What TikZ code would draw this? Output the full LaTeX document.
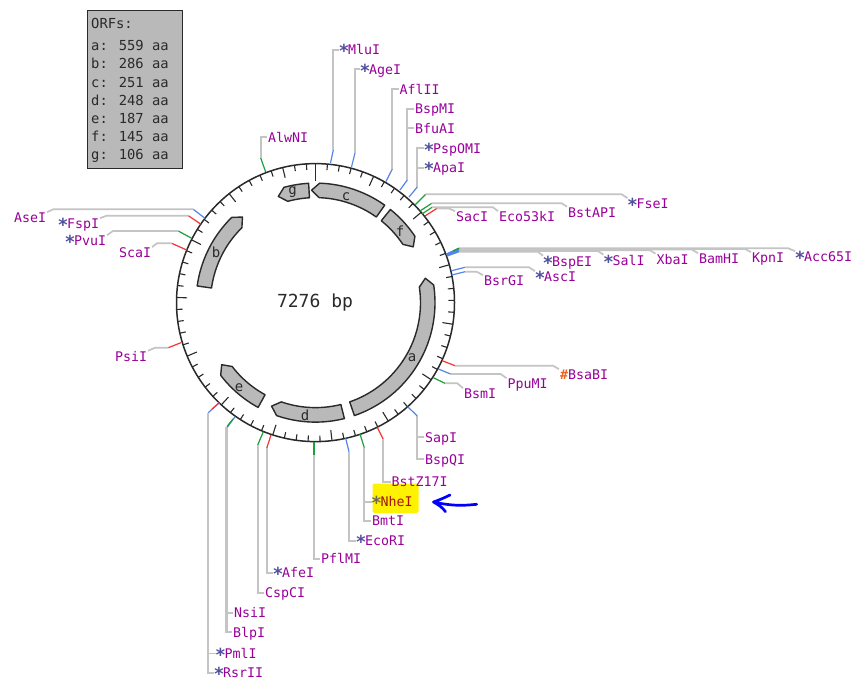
\documentclass[tikz,border=0pt]{standalone}
\usepackage{fontspec}
\setmainfont{DejaVu Sans Mono}
\definecolor{leadgrey}{HTML}{C4C4C4}
\definecolor{cutblue}{HTML}{5585E8}
\definecolor{cutgreen}{HTML}{1E9E3C}
\definecolor{cutred}{HTML}{F53535}
\definecolor{labpurple}{HTML}{990099}
\definecolor{starblue}{HTML}{50509E}
\definecolor{hashor}{HTML}{F5601E}
\definecolor{genegrey}{HTML}{B9B9B9}
\definecolor{ink}{HTML}{2A2A2A}
\newcommand\st{\makebox[8pt]{\color{starblue}\bfseries\raisebox{-3pt}{\scalebox{1.35}{*}}}}
\newcommand\hs{{\color{hashor}\bfseries\#}}
% name, x, y, text
\newcommand\lab[4]{\node[enzlabel] (#1) at ({#2-1},#3) {#4};}
% id, outer end x,y ; ring end x,y ; colour
\newcommand\site[4]{\coordinate (#1-a) at (#2); \coordinate (#1-b) at (#3); \draw[cut,#4] (#1-a) -- (#1-b);}
\newcommand\orf[4]{% name, flat angle, tip angle, letter position
  \pgfmathsetmacro\sh{#3-4*sign(#3-#2)}
  \draw[orfshape] plot[domain=#2:\sh,samples=40] ({315.5+119.5*sin(\x)},{302.6-119.5*cos(\x)})
    -- ({315.5+112.5*sin(#3)},{302.6-112.5*cos(#3)})
    -- plot[domain=\sh:#2,samples=40] ({315.5+105*sin(\x)},{302.6-105*cos(\x)}) -- cycle;
  \node[orfletter] (orf#1) at (#4) {#1};}
\tikzset{
  enzlabel/.style={anchor=west,inner sep=0pt,outer sep=1pt,text height=9.7pt,text depth=0pt,text=labpurple,font=\fontsize{13.3}{13.3}\selectfont},
  boxline/.style={anchor=west,inner sep=0pt,text height=9.7pt,text depth=0pt,text=ink,font=\fontsize{13.8}{13.8}\selectfont},
  cut/.style={line width=1.2pt},
  lead/.style={draw=leadgrey,line width=1.7pt},
  orfshape/.style={draw=ink,fill=genegrey,line width=1.4pt,line join=round},
  orfletter/.style={inner sep=0pt,text=ink,font=\fontsize{14}{14}\selectfont},
  mapring/.style={draw=ink,line width=1.5pt},
  maptick/.style={draw=ink,line width=1.1pt},
}
\begin{document}
\begin{tikzpicture}[x=1pt,y=-1pt]
\fill[white] (0,0) rectangle (854,681);
\useasboundingbox (0,0) rectangle (854,681);

% ORF legend
\node[draw=ink,fill=genegrey,line width=1.4pt,inner sep=0pt,minimum width=95pt,minimum height=158pt,anchor=north west] (orfbox) at (87,9.5) {};
\node[boxline] (h0) at (91,24) {ORFs:};
\node[boxline] (h1) at (91,46) {a: 559 aa};
\node[boxline] (h2) at (91,64) {b: 286 aa};
\node[boxline] (h3) at (91,82.5) {c: 251 aa};
\node[boxline] (h4) at (91,100.5) {d: 248 aa};
\node[boxline] (h5) at (91,119) {e: 187 aa};
\node[boxline] (h6) at (91,137) {f: 145 aa};
\node[boxline] (h7) at (91,155) {g: 106 aa};

% ring
\coordinate (ctr) at (315.5,302.6);
\draw[mapring] (ctr) circle[radius=139pt];
\foreach \i in {0,...,72}{
  \pgfmathsetmacro\ang{\i*100/7276*360}
  \pgfmathsetmacro\len{\i==0 ? 17 : (mod(\i,5)==0 ? 10.5 : 6)}
  \draw[maptick] ({315.5+139*sin(\ang)},{302.6-139*cos(\ang)}) -- ({315.5+(139-\len)*sin(\ang)},{302.6-(139-\len)*cos(\ang)});
}
\node[inner sep=0pt,text=ink,font=\fontsize{18}{18}\selectfont] (size) at (315,302.6) {7276 bp};

% ORFs
\orf{a}{161}{77.5}{412,358}
\orf{b}{278}{319.5}{216,252}
\orf{c}{35.4}{-2}{346,197}
\orf{d}{166}{203}{305,415}
\orf{e}{208.7}{236.5}{239,388}
\orf{f}{38.8}{60.3}{400,231}
\orf{g}{-3.3}{-19.3}{292.7,192}

% highlight
\node[fill=yellow,rounded corners=1.5pt,inner sep=0pt,minimum width=46pt,minimum height=29.4pt,anchor=north west] (hl) at (372.3,483.3) {};

% labels
\lab{MluI}{340}{50}{\st MluI}
\lab{AgeI}{361}{69.3}{\st AgeI}
\lab{AflII}{399.5}{89.3}{AflII}
\lab{BspMI}{415}{109}{BspMI}
\lab{BfuAI}{415}{128.3}{BfuAI}
\lab{PspOMI}{425}{148.3}{\st PspOMI}
\lab{ApaI}{425}{167.7}{\st ApaI}
\lab{AlwNI}{268}{137.3}{AlwNI}
\lab{FseI}{628.5}{204}{\st FseI}
\lab{BstAPI}{568}{212.6}{BstAPI}
\lab{EcoF}{499}{217}{Eco53kI}
\lab{SacI}{456}{217}{SacI}
\lab{BspEI}{544}{261.5}{\st BspEI}
\lab{SalI}{604.5}{260.5}{\st SalI}
\lab{XbaI}{656.5}{259.5}{XbaI}
\lab{BamHI}{699}{259}{BamHI}
\lab{KpnI}{752}{258}{KpnI}
\lab{Acc}{796}{257}{\st Acc65I}
\lab{AscI}{536}{277}{\st AscI}
\lab{BsrGI}{484}{281}{BsrGI}
\lab{BsaBI}{560}{375}{\hs BsaBI}
\lab{PpuMI}{507.5}{384}{PpuMI}
\lab{BsmI}{464}{394}{BsmI}
\lab{SapI}{425}{437.3}{SapI}
\lab{BspQI}{425}{459.3}{BspQI}
\lab{BstZ}{391.5}{481.7}{BstZ17I}
\node[enzlabel,text={rgb,255:red,165;green,20;blue,10}] (NheI) at (371.5,501.7) {\makebox[8pt]{\color{black!65!yellow}\bfseries\raisebox{-3pt}{\scalebox{1.35}{*}}}NheI};
\lab{BmtI}{372}{521}{BmtI}
\lab{EcoRI}{357}{540.7}{\st EcoRI}
\lab{PflMI}{321}{559}{PflMI}
\lab{AfeI}{274}{572.7}{\st AfeI}
\lab{CspCI}{265}{592.7}{CspCI}
\lab{NsiI}{234}{612.7}{NsiI}
\lab{BlpI}{233}{632.3}{BlpI}
\lab{PmlI}{216.5}{653.5}{\st PmlI}
\lab{RsrII}{215}{672.8}{\st RsrII}
\lab{AseI}{14}{218}{AseI}
\lab{FspI}{59}{224}{\st FspI}
\lab{PvuI}{66}{241}{\st PvuI}
\lab{ScaI}{119}{253}{ScaI}
\lab{PsiI}{115}{356.7}{PsiI}

% leaders (grey) under the cut ticks
\coordinate (aMlu) at (333.3,150);
\coordinate (aAge) at (355,153);
\coordinate (aAfl) at (392.3,169);
\coordinate (aBsp) at (407.3,180);
\coordinate (aPsp) at (417.3,187);
\coordinate (aAlw) at (260.7,158);
\draw[lead] (aMlu) |- (MluI.west);
\draw[lead] (aAge) |- (AgeI.west);
\draw[lead] (aAfl) |- (AflII.west);
\draw[lead] (aBsp) |- (BspMI.west);
\draw[lead] (aBsp) |- (BfuAI.west);
\draw[lead] (aPsp) |- (PspOMI.west);
\draw[lead] (aPsp) |- (ApaI.west);
\draw[lead] (aAlw) |- (AlwNI.west);
\site{Mlu}{333.3,150}{330.5,163}{cutblue}
\site{Age}{355,153}{351.5,167}{cutblue}
\site{Afl}{392.3,169}{386,181.5}{cutblue}
\site{Bsp}{407.3,180}{400,190}{cutblue}
\site{Psp}{417.3,187}{409,197}{cutblue}
\site{Alw}{260.7,158}{265.7,172}{cutgreen}

% right-hand leaders
\site{Fse}{425.7,194.3}{415,205}{cutgreen}
\draw[lead] (Fse-a) -- (621.7,194.3) -- (FseI.north west);
\site{Apt}{431.7,203.3}{420,211}{cutgreen}
\draw[lead] (Apt-a) -- (561.7,203.3) -- (BstAPI.north west);
\site{Eco}{432,207.3}{422,214}{cutgreen}
\draw[lead] (Eco-a) -- (493,207.3) -- (EcoF.north west);
\site{Sac}{436.7,208.5}{425,216}{cutred}
\draw[lead] (Sac-a) -- (449,208.5) -- (SacI.north west);

% the bundle
\coordinate (bA) at (459,248.2);
\coordinate (bK) at (459,248.9);
\coordinate (bB) at (459,249.6);
\coordinate (bX) at (459,250.3);
\coordinate (bS) at (459,251);
\coordinate (bE) at (459,251.7);
\draw[lead] (bA) -- (788,248.2) -- (Acc.north west);
\draw[lead] (bK) -- (745,248.9) -- (KpnI.north west);
\draw[lead] (bB) -- (692,249.6) -- (BamHI.north west);
\draw[lead] (bX) -- (650,250.3) -- (XbaI.north west);
\draw[lead] (bS) -- (598,251) -- (SalI.north west);
\draw[lead] (bE) -- (537.7,251.7) -- (BspEI.north west);
\coordinate (rA) at (446.5,254);
\coordinate (rB) at (446.8,254.8);
\coordinate (rC) at (447,255.4);
\coordinate (rD) at (447.2,256);
\draw[cut,cutblue] (rA) -- (bA);
\draw[cut,cutblue] (rA) -- (bK);
\draw[cut,cutblue] (rB) -- (bB);
\draw[cut,cutblue] (rB) -- (bX);
\draw[cut,cutblue] (rC) -- (bS);
\draw[cut,cutblue] (rD) -- (bE);
\coordinate (bG) at (453,251);
\draw[cut,cutgreen] (bG) -- (bA);

\site{Asc}{465,267.3}{451.7,270.7}{cutblue}
\draw[lead] (Asc-a) -- (529,267.3) -- (AscI.north west);
\site{Bsr}{465,271.7}{451.7,275}{cutblue}
\draw[lead] (Bsr-a) -- (476.7,271.7) -- (BsrGI.north west);
\site{Bsa}{455,365.7}{442.3,360.7}{cutred}
\draw[lead] (Bsa-a) -- (553,365.7) -- (BsaBI.north west);
\site{Ppu}{450.7,374}{438.3,369}{cutblue}
\draw[lead] (Ppu-a) -- (500.7,374) -- (PpuMI.north west);
\site{Bsm}{445,383.3}{433.3,377.7}{cutgreen}
\draw[lead] (Bsm-a) -- (457.3,383.3) -- (BsmI.north west);

% bottom leaders
\coordinate (aSap) at (417.3,416);
\draw[lead] (aSap) |- (SapI.west);
\draw[lead] (aSap) |- (BspQI.west);
\site{Sap}{417.3,416}{407.7,406.7}{cutblue}
\site{Bz}{383.3,439.3}{377.3,427.3}{cutred}
\draw[lead] (Bz-a) |- (BstZ.west);
\coordinate (aNhe) at (364.3,447.7);
\draw[lead] (aNhe) |- (NheI.west);
\draw[lead] (aNhe) |- (BmtI.west);
\site{Nhe}{364.3,447.7}{360,434}{cutgreen}
\site{Ecr}{349,451.7}{345.7,438.3}{cutblue}
\draw[lead] (Ecr-a) |- (EcoRI.west);
\site{Pfl}{314,455}{314,441.7}{cutgreen}
\draw[lead] (Pfl-a) |- (PflMI.west);
\site{Afe}{266.7,448.3}{271,435}{cutred}
\draw[lead] (Afe-a) |- (AfeI.west);
\site{Csp}{257.7,445}{263.3,431.7}{cutgreen}
\draw[lead] (Csp-a) |- (CspCI.west);
\coordinate (aNsi) at (226.5,427.3);
\draw[lead] (aNsi) |- (NsiI.west);
\draw[lead,line width=2.1pt] (aNsi) |- (BlpI.west);
\site{Nsi}{227.3,427.3}{235,416.7}{cutblue}
\site{Blp}{227,426.5}{233,419}{cutgreen}
\coordinate (aPml) at (208,412.7);
\draw[lead] (aPml) |- (PmlI.west);
\draw[lead,line width=2.4pt] (aPml) |- (RsrII.west);
\site{Pml}{208.3,412.7}{219.3,402.7}{cutblue}
\site{Rsr}{212,409}{219.3,402.7}{cutred}

% left leaders
\site{Ase}{193.3,209.3}{205,218.3}{cutblue}
\draw[lead] (Ase-a) -- (53.3,209.3) -- (AseI.north east);
\site{Fsp}{188.3,215.7}{200.7,224}{cutred}
\draw[lead] (Fsp-a) -- (106.7,215.7) -- (FspI.north east);
\site{Pvu}{178.3,231}{191.7,238.3}{cutgreen}
\draw[lead] (Pvu-a) -- (113,231) -- (PvuI.north east);
\site{Sca}{171.7,243.3}{186.7,250}{cutred}
\draw[lead] (Sca-a) -- (157,243.3) -- (ScaI.north east);
\site{Psi}{168.3,347.7}{181,342.7}{cutred}
\draw[lead] (Psi-a) -- (155,347.7) -- (PsiI.north east);

% hand-drawn arrow
\coordinate (arTip) at (433.5,502);
\coordinate (arEnd) at (476.7,504.3);
\coordinate (arUp) at (450,495);
\coordinate (arDn) at (445.5,511.7);
\draw[blue,line width=2.7pt,line cap=round,line join=round]
  (arEnd) .. controls (468,505) and (456,507) .. (arTip)
  (arUp) .. controls (444,498) and (439,500) .. (arTip)
  .. controls (439,505) and (443,508) .. (arDn);
\end{tikzpicture}
\end{document}
